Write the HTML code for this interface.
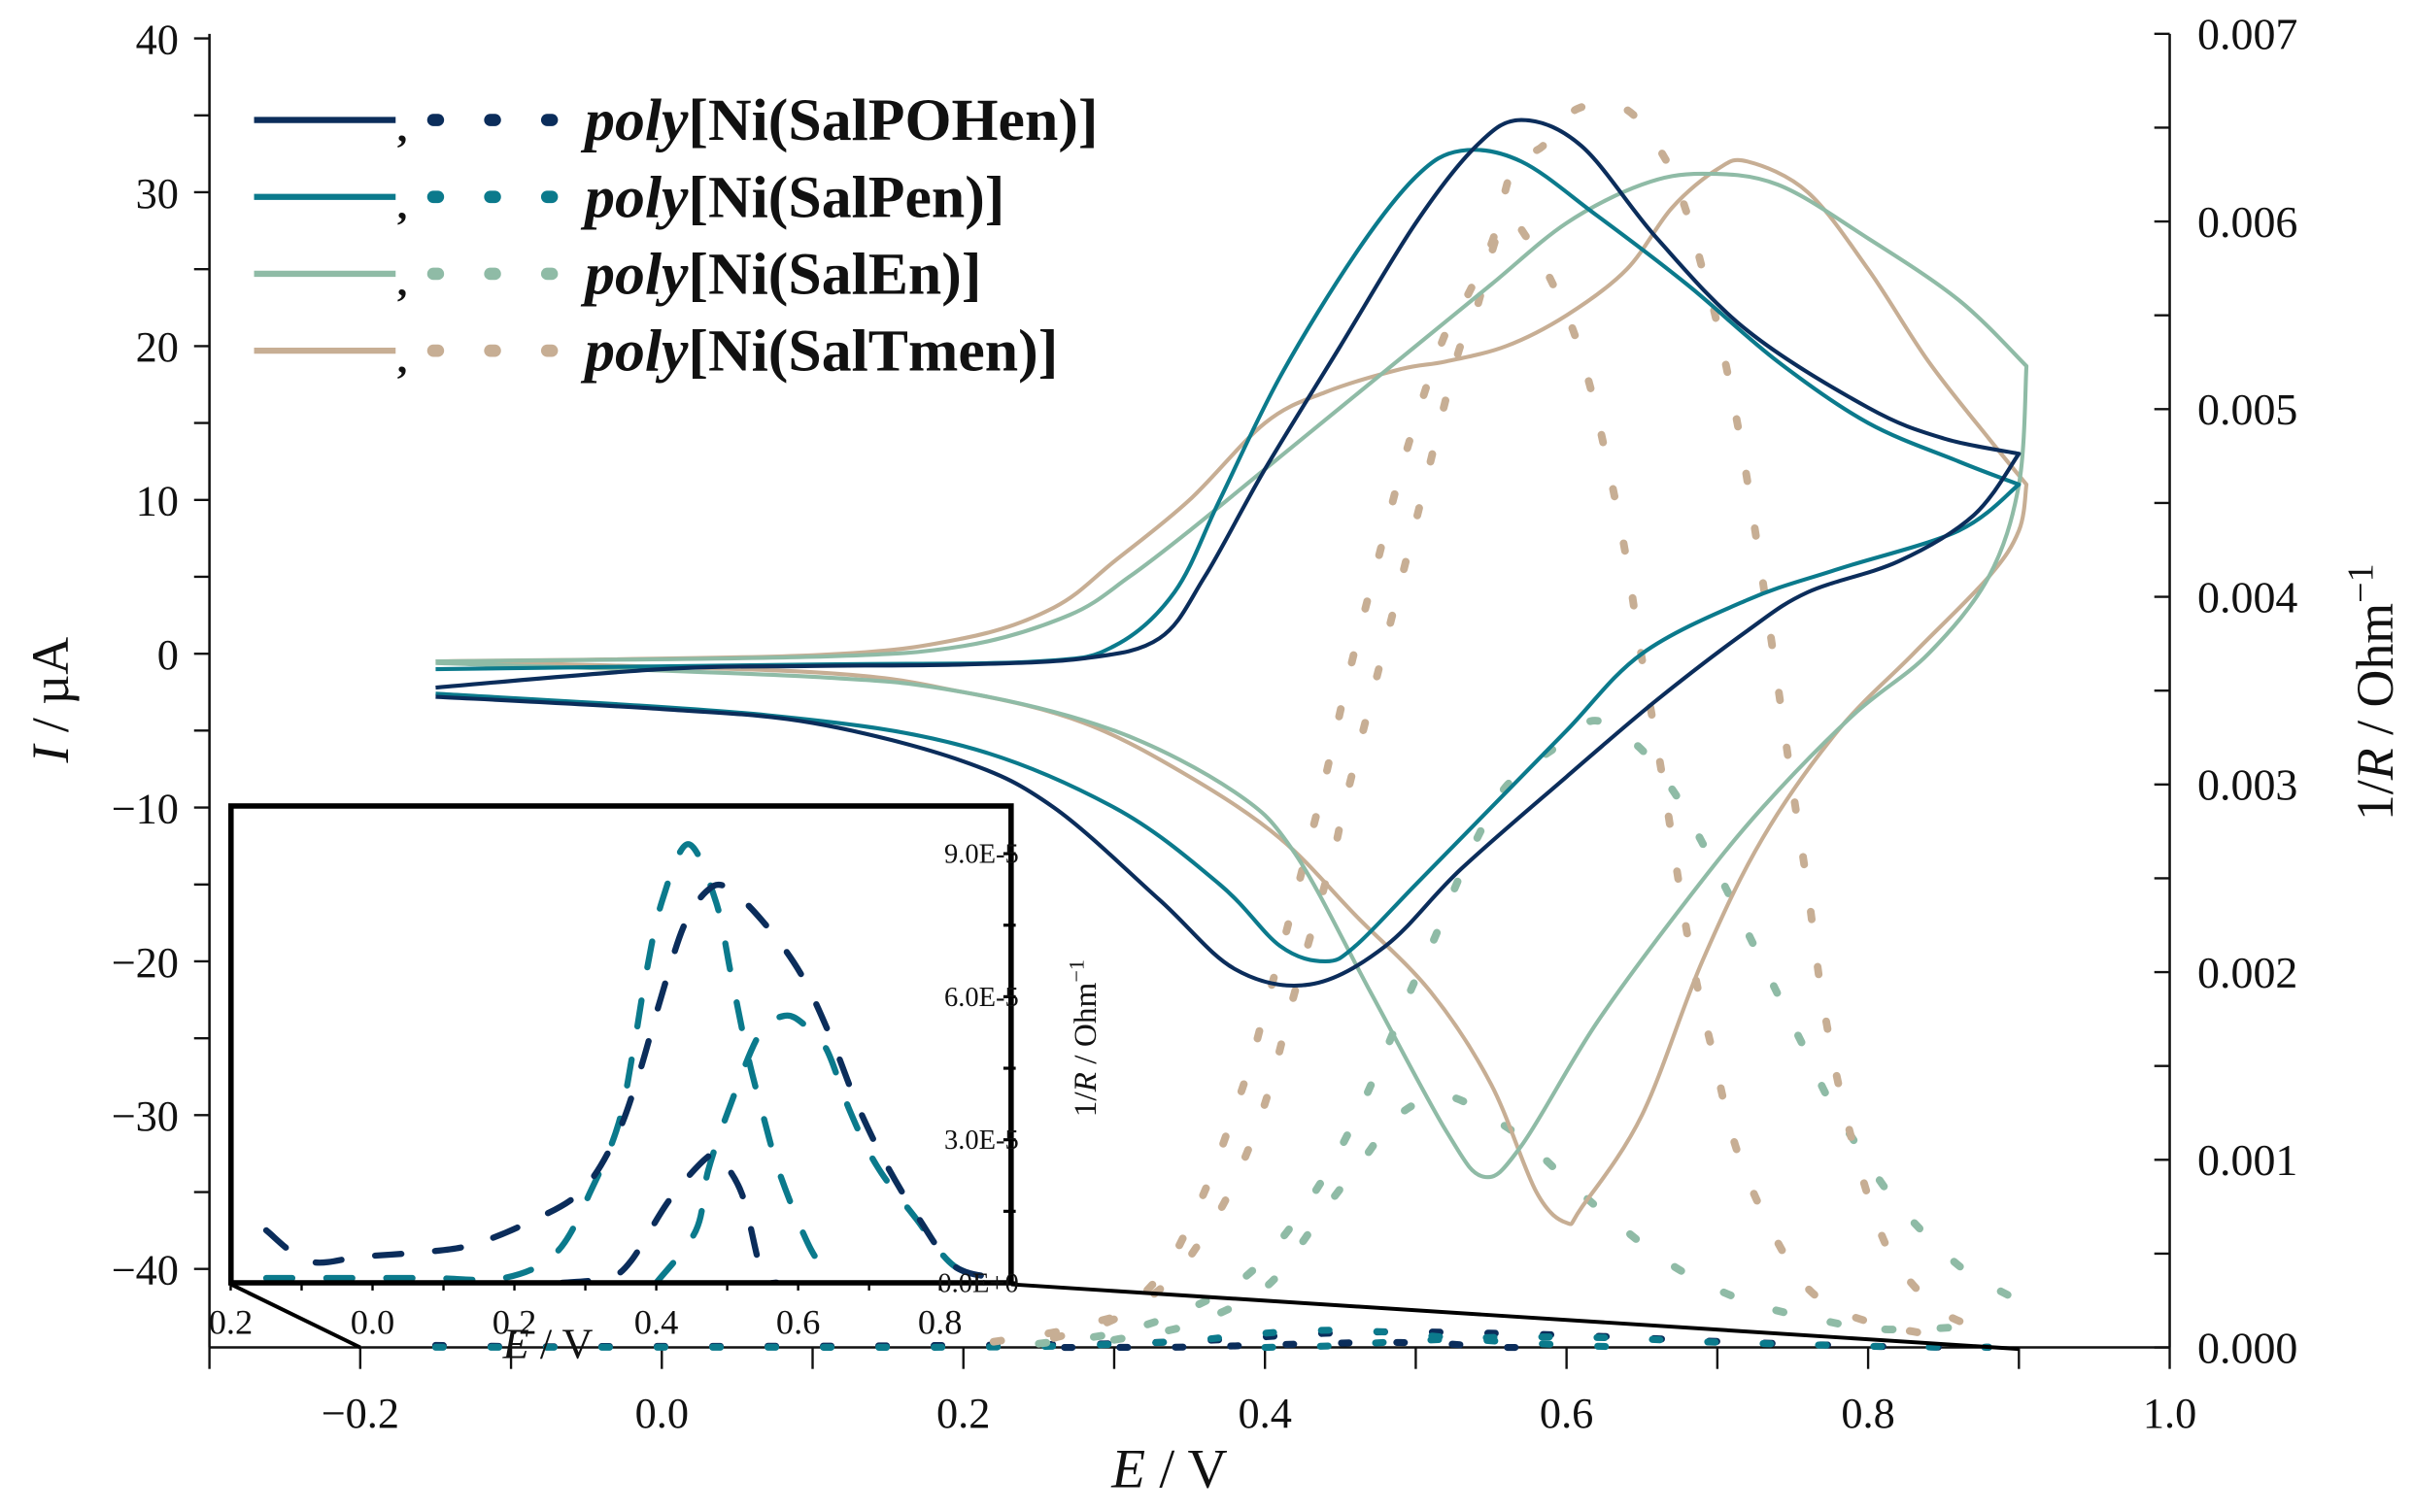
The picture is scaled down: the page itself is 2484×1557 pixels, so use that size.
<!DOCTYPE html>
<html><head><meta charset="utf-8"><style>
html,body{margin:0;padding:0;background:#fff}
svg{display:block}
text{font-family:"Liberation Serif",serif;fill:#111}
</style></head><body>
<svg id="chart" width="2484" height="1557" viewBox="0 0 1568 983" xmlns="http://www.w3.org/2000/svg">
<g id="main-axes"></g>
<g id="main-series"></g>
<g id="inset"></g>
<g id="legend"></g>
</svg>
<script>
// ---------- data ----------
const colNavy="#0b2d5b", colTeal="#0b7a8c", colGreen="#8fbba6", colTan="#c7ae94";
const seriesNames=["SalPOHen","SalPen","SalEn","SalTmen"];
const cvNavyE=[-0.15,0,0.1,0.2,0.28,0.33,0.36,0.4,0.45,0.5,0.54,0.57,0.61,0.66,0.72,0.8,0.85,0.9,0.87,0.82,0.76,0.72,0.66,0.6,0.53,0.48,0.43,0.38,0.33,0.26,0.2,0.1,0,-0.15];
const cvNavyI=[-2.2,-1,-0.8,-0.7,-0.3,1,5,12,20,28,33,34.7,33,27,21,16,14,13,9,6,4,1.5,-3,-8,-14,-19,-21.5,-20.5,-16,-10,-7,-4.5,-3.6,-2.8];
const cvTealE=[-0.15,0.1,0.25,0.3,0.34,0.37,0.41,0.46,0.5,0.53,0.57,0.62,0.68,0.74,0.8,0.86,0.9,0.86,0.78,0.72,0.65,0.6,0.55,0.5,0.46,0.44,0.41,0.37,0.3,0.2,0.07,-0.15];
const cvTealI=[-1,-0.7,-0.5,0.5,4,10,18,26,31,32.7,32,28.5,24,19,15,12.5,11,8,5.5,3.5,0,-5,-10,-15,-19,-20,-19,-15,-10,-6,-4,-2.6];
const cvGreenE=[-0.15,0.1,0.2,0.27,0.31,0.35,0.4,0.45,0.5,0.55,0.6,0.65,0.69,0.74,0.8,0.86,0.905,0.9,0.88,0.84,0.79,0.73,0.68,0.62,0.57,0.545,0.52,0.47,0.42,0.38,0.3,0.2,0.1,-0.15];
const cvGreenI=[-0.5,-0.2,0.5,2.5,5,8,12,16,20,24,28,30.5,31.2,30.5,27,23,18.7,11,5,0,-4,-10,-16,-24,-32,-34,-31,-22,-13,-9,-5,-2.5,-1.5,-0.6];
const cvTanE=[-0.15,0.1,0.2,0.26,0.3,0.35,0.4,0.44,0.49,0.52,0.56,0.6,0.64,0.67,0.7,0.72,0.76,0.8,0.84,0.88,0.905,0.9,0.88,0.83,0.78,0.73,0.69,0.65,0.61,0.6,0.58,0.55,0.51,0.46,0.41,0.35,0.28,0.2,0.1,-0.15];
const cvTanI=[-0.5,-0.1,1,3,6,10,15,17,18.5,19,20,22,25,29,31.5,32,30,25,19,14,11,8,5,0,-5,-12,-20,-30,-36,-37,-35,-28,-22,-17,-12,-8,-4.5,-2.5,-1.2,-0.5];
const gTan1E=[0.22,0.26,0.29,0.308,0.334,0.352,0.366,0.379,0.391,0.401,0.411,0.43,0.439,0.456,0.475,0.494,0.518,0.534,0.551,0.565,0.584,0.607,0.639,0.665,0.68,0.69,0.7,0.715,0.727,0.738,0.749,0.76,0.77,0.785,0.806,0.824,0.853,0.89];
const gTan1G=[0.00003,0.00008,0.00014,0.0002,0.00042,0.00069,0.00095,0.00124,0.00153,0.00183,0.00212,0.00271,0.003,0.0036,0.0042,0.00478,0.00537,0.0056,0.0059,0.0063,0.0064,0.0066,0.0066,0.00634,0.00604,0.00575,0.00545,0.00485,0.00425,0.00365,0.00303,0.00244,0.00184,0.00124,0.00066,0.00039,0.00017,0.00007];
const gTan2E=[0.26,0.3,0.336,0.36,0.379,0.4,0.42,0.445,0.453,0.475,0.5,0.527,0.539,0.558,0.575,0.587,0.603,0.614,0.623,0.638,0.65,0.663,0.681,0.697,0.716,0.751,0.78,0.82,0.86];
const gTan2G=[0.00005,0.00015,0.00035,0.0006,0.00087,0.0013,0.0019,0.00262,0.0029,0.0036,0.0044,0.00527,0.0055,0.006,0.0059,0.00573,0.00545,0.00517,0.00487,0.00428,0.00367,0.00307,0.00216,0.00157,0.00098,0.00041,0.0002,0.0001,0.00005];
const gGreen1E=[0.25,0.29,0.313,0.348,0.381,0.406,0.43,0.45,0.467,0.482,0.497,0.513,0.527,0.543,0.561,0.595,0.619,0.648,0.672,0.69,0.708,0.725,0.742,0.758,0.774,0.794,0.814,0.837,0.866,0.9];
const gGreen1G=[0.00002,0.00006,0.0001,0.0002,0.00034,0.00053,0.00079,0.00106,0.00134,0.00162,0.00191,0.00219,0.00247,0.00275,0.003,0.00321,0.00334,0.0032,0.00295,0.00269,0.00241,0.00213,0.00185,0.00159,0.00132,0.00106,0.00082,0.00061,0.0004,0.00025];
const gGreen2E=[0.3,0.35,0.397,0.421,0.441,0.465,0.489,0.52,0.557,0.578,0.607,0.635,0.664,0.694,0.729,0.766,0.802,0.84,0.88];
const gGreen2G=[0.00004,0.00012,0.0003,0.00052,0.00075,0.001,0.00124,0.00134,0.00119,0.00106,0.00084,0.00065,0.00047,0.00033,0.00022,0.00015,0.0001,0.0001,0.00012];
const gNavy1E=[-0.15,-0.09,-0.015,0.076,0.141,0.217,0.293,0.343,0.375,0.406,0.438,0.47,0.499,0.549,0.603,0.646,0.683,0.722,0.77,0.82,0.88];
const gNavy1G=[1.1e-5,0.45e-5,0.55e-5,0.65e-5,0.8e-5,1.25e-5,1.9e-5,3.05e-5,4.35e-5,5.95e-5,7.45e-5,8.2e-5,8.3e-5,7.6e-5,6.5e-5,5.15e-5,3.75e-5,2.55e-5,1.35e-5,0.35e-5,0.1e-5];
const gNavy2E=[0.267,0.33,0.364,0.419,0.473,0.49,0.521,0.549,0.57];
const gNavy2G=[0,0.1e-5,0.45e-5,1.75e-5,2.65e-5,2.6e-5,1.85e-5,0.2e-5,0];
const gTeal1E=[-0.15,-0.05,0.08,0.185,0.26,0.31,0.347,0.369,0.386,0.408,0.445,0.484,0.505,0.527,0.549,0.575,0.618,0.65];
const gTeal1G=[0.1e-5,0.1e-5,0.1e-5,0.1e-5,0.65e-5,2e-5,3.35e-5,5e-5,6.5e-5,8e-5,9.2e-5,8e-5,6.5e-5,4.9e-5,3.6e-5,2.25e-5,0.7e-5,0.1e-5];
const gTeal2E=[0.4,0.456,0.473,0.505,0.545,0.581,0.61,0.64,0.673,0.711,0.766,0.82,0.88];
const gTeal2G=[0,1.1e-5,2.35e-5,3.75e-5,5.2e-5,5.6e-5,5.4e-5,4.9e-5,3.6e-5,2.45e-5,1.35e-5,0.35e-5,0.1e-5];
const xTicks=[-0.2,0.0,0.2,0.4,0.6,0.8,1.0];
const yTicksL=[40,30,20,10,0,-10,-20,-30,-40];
const yTicksR=[0,0.001,0.002,0.003,0.004,0.005,0.006,0.007];
const insetXTicks=[-0.2,0.0,0.2,0.4,0.6,0.8];
const insetYTicks=[0,3e-5,6e-5,9e-5];
const insetYLabels=["0.0E+0","3.0E-5","6.0E-5","9.0E-5"];

// ---------- scales ----------
const X=e=>430+980*e, Y=i=>425-10*i, YR=g=>876-g*122000;
const IX=e=>242+461*e, IY=g=>834-g*3.1e6;
const NS="http://www.w3.org/2000/svg";
function mk(tag,attrs,parent,txt){const el=document.createElementNS(NS,tag);for(const k in attrs)el.setAttribute(k,attrs[k]);if(txt!==undefined)el.textContent=txt;parent.appendChild(el);return el;}
function seg(pts,start){let d=start?"M"+pts[0][0].toFixed(1)+","+pts[0][1].toFixed(1):"";
 for(let i=0;i<pts.length-1;i++){const p0=pts[Math.max(0,i-1)],p1=pts[i],p2=pts[i+1],p3=pts[Math.min(pts.length-1,i+2)];
  const c1=[p1[0]+(p2[0]-p0[0])/6,p1[1]+(p2[1]-p0[1])/6],c2=[p2[0]-(p3[0]-p1[0])/6,p2[1]-(p3[1]-p1[1])/6];
  d+=" C"+c1[0].toFixed(1)+","+c1[1].toFixed(1)+" "+c2[0].toFixed(1)+","+c2[1].toFixed(1)+" "+p2[0].toFixed(1)+","+p2[1].toFixed(1);}
 return d;}
const smooth=pts=>seg(pts,true);
const fmt=v=>(v<0?"\u2212":"")+Math.abs(v).toFixed(1);

// ---------- main axes ----------
const ax=document.getElementById("main-axes");
let l=mk("line",{x1:136,y1:22,x2:136,y2:876,stroke:"#111","stroke-width":1.6},ax);

l=mk("line",{x1:1410,y1:22,x2:1410,y2:876,stroke:"#111","stroke-width":1.6},ax);

l=mk("line",{x1:136,y1:876,x2:1410,y2:876,stroke:"#111","stroke-width":1.6},ax);

for(let v=-40;v<=40;v+=5){const y=Y(v);const t=mk("line",{x1:126,y1:y,x2:136,y2:y,stroke:"#111","stroke-width":1.5},ax);
 }
yTicksL.forEach(v=>{const t=mk("text",{x:116,y:Y(v)+10,"font-size":28,"text-anchor":"end"},ax,v<0?"\u2212"+(-v):String(v));
 });
for(let k=0;k<=14;k++){const y=YR(k*0.0005);const t=mk("line",{x1:1400,y1:y,x2:1410,y2:y,stroke:"#111","stroke-width":1.5},ax);
 }
yTicksR.forEach(v=>{const t=mk("text",{x:1428,y:YR(v)+10,"font-size":29},ax,v.toFixed(3));
 });
for(let k=-3;k<=10;k++){const x=X(k/10);const t=mk("line",{x1:x,y1:876,x2:x,y2:890,stroke:"#111","stroke-width":1.5},ax);
 }
xTicks.forEach(v=>{const t=mk("text",{x:X(v),y:928,"font-size":28,"text-anchor":"middle"},ax,fmt(v));
 });
let tx=mk("text",{x:760,y:967,"font-size":36,"text-anchor":"middle"},ax);

tx.innerHTML='<tspan font-style="italic">E</tspan> / V';
tx=mk("text",{x:0,y:0,"font-size":34,"text-anchor":"middle",transform:"translate(44,455) rotate(-90)"},ax);

tx.innerHTML='<tspan font-style="italic">I</tspan> / \u00b5A';
tx=mk("text",{x:0,y:0,"font-size":34,"text-anchor":"middle",transform:"translate(1555,450) rotate(-90)"},ax);

tx.innerHTML='1/<tspan font-style="italic">R</tspan> / Ohm<tspan dy="-13" font-size="24">\u22121</tspan>';

// ---------- main series ----------
const ms=document.getElementById("main-series");
function cv(E,I,col,name){const p=E.map((e,k)=>[X(e),Y(I[k])]);
 let m=0;E.forEach((e,k)=>{if(e>E[m])m=k;});
 const d=seg(p.slice(0,m+1),true)+seg(p.slice(m),false);
 const el=mk("path",{d:d,fill:"none",stroke:col,"stroke-width":2.6,"stroke-linejoin":"round"},ms);
 }
function dots(E,G,col,name,w){const p=E.map((e,k)=>[X(e),YR(G[k])]);
 const el=mk("path",{d:smooth(p),fill:"none",stroke:col,"stroke-width":w||5,"stroke-linecap":"round","stroke-dasharray":"5 31"},ms);
 }
dots(gNavy1E,gNavy1G,colNavy,'navy-conductance-main',4.5);
dots(gTeal1E,gTeal1G,colTeal,'teal-conductance-main',4.5);
dots(gNavy2E,gNavy2G,colNavy,'navy-conductance-main-2',4.5);
dots(gTeal2E,gTeal2G,colTeal,'teal-conductance-main-2',4.5);
dots(gGreen1E,gGreen1G,colGreen,'salen-conductance-1');
dots(gGreen2E,gGreen2G,colGreen,'salen-conductance-2');
dots(gTan1E,gTan1G,colTan,'saltmen-conductance-1');
dots(gTan2E,gTan2G,colTan,'saltmen-conductance-2');
cv(cvTanE,cvTanI,colTan,'saltmen-cv');
cv(cvGreenE,cvGreenI,colGreen,'salen-cv');
cv(cvTealE,cvTealI,colTeal,'salpen-cv');
cv(cvNavyE,cvNavyI,colNavy,'salpohen-cv');

// ---------- inset ----------
const ins=document.getElementById("inset");
let r=mk("rect",{x:150,y:524,width:507,height:310,fill:"#fff",stroke:"none"},ins);

const clip=mk("clipPath",{id:"ic"},ins);mk("rect",{x:150,y:524,width:507,height:310},clip);
const ig=mk("g",{"clip-path":"url(#ic)"},ins);

[[gTeal1E,gTeal1G,colTeal,'inset-salpen-1'],[gTeal2E,gTeal2G,colTeal,'inset-salpen-2'],[gNavy1E,gNavy1G,colNavy,'inset-salpohen-1'],[gNavy2E,gNavy2G,colNavy,'inset-salpohen-2']].forEach(a=>{
 const p=a[0].map((e,k)=>[IX(e),IY(a[1][k])]);
 const el=mk("path",{d:smooth(p),fill:"none",stroke:a[2],"stroke-width":4,"stroke-linecap":"round","stroke-dasharray":"17 22"},ig);
 });
r=mk("rect",{x:150,y:524,width:507,height:310,fill:"none",stroke:"#000","stroke-width":3.5},ins);

l=mk("line",{x1:150,y1:835,x2:234,y2:876,stroke:"#000","stroke-width":2.5},ins);

l=mk("line",{x1:657,y1:835,x2:1312,y2:877,stroke:"#000","stroke-width":2.5},ins);

for(let k=-2;k<=8;k++){const x=IX(k/10);const t=mk("line",{x1:x,y1:834,x2:x,y2:839,stroke:"#000","stroke-width":1.5},ins);
 }
insetXTicks.forEach(v=>{const t=mk("text",{x:IX(v),y:867,"font-size":23,"text-anchor":"middle"},ins,v<0?Math.abs(v).toFixed(1):v.toFixed(1));
 });
for(let k=0;k<=6;k++){const y=IY(k*1.5e-5);const t=mk("line",{x1:652,y1:y,x2:660,y2:y,stroke:"#000","stroke-width":2},ins);
 }
insetYTicks.forEach((v,k)=>{const t=mk("text",{x:662,y:IY(v)+6,"font-size":18,"text-anchor":"end"},ins,insetYLabels[k]);
 });
tx=mk("text",{x:0,y:0,"font-size":21,"text-anchor":"middle",transform:"translate(712,675) rotate(-90)"},ins);

tx.innerHTML='1/<tspan font-style="italic">R</tspan> / Ohm<tspan dy="-8" font-size="14">\u22121</tspan>';
tx=mk("text",{x:356,y:883,"font-size":28,"text-anchor":"middle"},ins);

tx.innerHTML='<tspan font-style="italic">E</tspan> / V';

// ---------- legend ----------
const lg=document.getElementById("legend");
const legCols=[colNavy,colTeal,colGreen,colTan];
seriesNames.forEach((n,k)=>{const y=78+k*50;
 const g=mk("g",{},lg);
 mk("line",{x1:165,y1:y,x2:257,y2:y,stroke:legCols[k],"stroke-width":4},g);
 mk("text",{x:258,y:y+14,"font-size":26,"font-weight":"bold"},g,",");
 [283,320,357].forEach(x=>mk("line",{x1:x-1.5,y1:y,x2:x+1.5,y2:y,stroke:legCols[k],"stroke-width":8,"stroke-linecap":"round"},g));
 const t=mk("text",{x:380,y:y+13,"font-size":39,"font-weight":"bold"},g);
 t.innerHTML='<tspan font-style="italic">poly</tspan>[Ni('+n+')]';});
</script>
</body></html>
